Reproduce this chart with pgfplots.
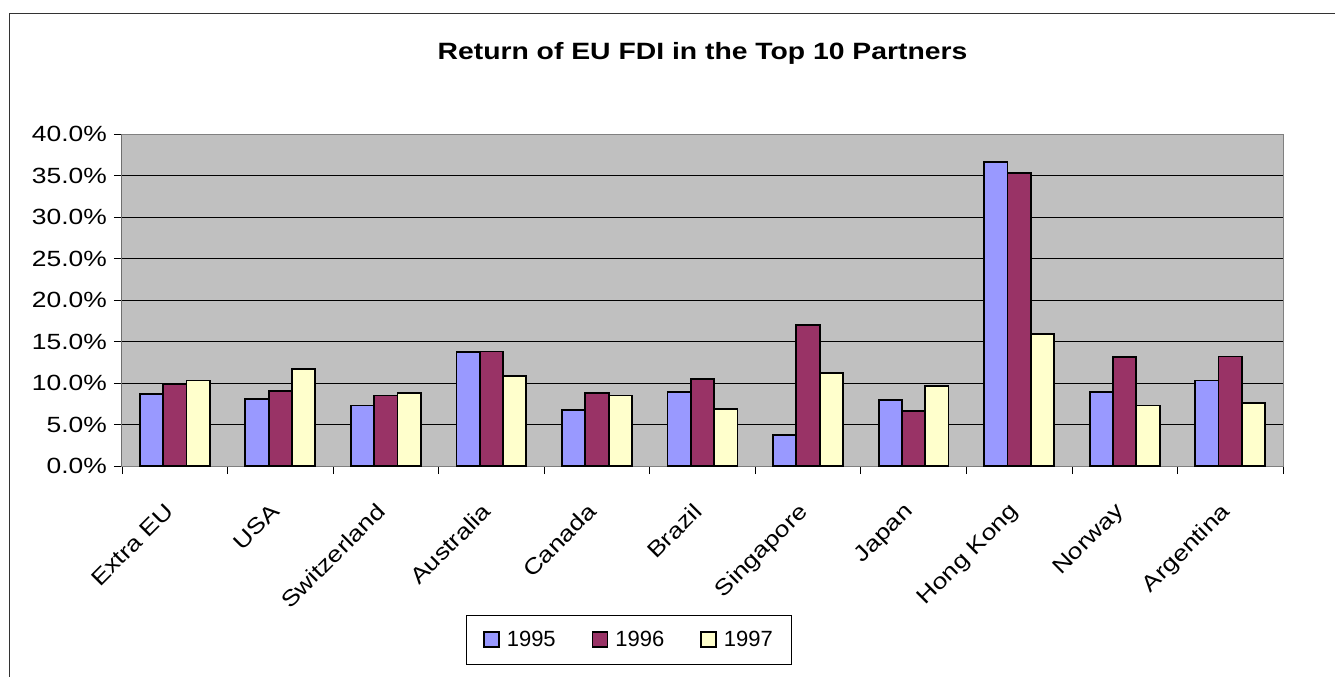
\documentclass[border=0pt]{standalone}
\usepackage{pgfplots}
\pgfplotsset{compat=1.18}
\usepackage{fontspec}
\setmainfont{Liberation Sans}
\newcommand\sx[1]{\scalebox{1.2}[1]{#1}}
\definecolor{c95}{HTML}{9999FF}
\definecolor{c96}{HTML}{993366}
\definecolor{c97}{HTML}{FFFFCC}
\definecolor{bgc}{HTML}{C0C0C0}
\pgfplotstableread{
x y95 y96 y97
0 8.7 9.9 10.3
1 8.1 9.0 11.7
2 7.3 8.5 8.8
3 13.7 13.8 10.8
4 6.7 8.8 8.5
5 8.9 10.5 6.9
6 3.7 17.0 11.2
7 8.0 6.6 9.6
8 36.6 35.3 15.9
9 8.9 13.1 7.3
10 10.3 13.2 7.6
}\datatable
\begin{document}
\begin{tikzpicture}
\useasboundingbox (-122bp,-211bp) rectangle (1213bp,466bp);
\draw[line width=1.4bp, color=black!80] (-112.7bp,-260bp) -- (-112.7bp,452.3bp) -- (1300bp,452.3bp);
\begin{axis}[
  at={(0,0)}, anchor=south west,
  scale only axis, width=1161bp, height=332bp,
  axis background/.style={fill=bgc},
  axis line style={draw=gray, line width=1bp},
  ybar=0pt, bar width=23.3bp,
  xmin=-0.5, xmax=10.5, ymin=0, ymax=40,
  xtick=data,
  xticklabels={\sx{Extra EU}, \sx{USA}, \sx{Switzerland}, \sx{Australia}, \sx{Canada}, \sx{Brazil}, \sx{Singapore}, \sx{Japan}, \sx{Hong Kong}, \sx{Norway}, \sx{Argentina}},
  minor xtick={-0.5,0.5,...,10.5},
  major x tick style={draw=none},
  minor tick length=8bp, major tick length=8bp,
  tick align=outside,
  tick style={black, line width=0.8bp},
  xtick pos=bottom, ytick pos=left,
  ytick={0,5,...,40},
  yticklabels={\sx{0.0\%},\sx{5.0\%},\sx{10.0\%},\sx{15.0\%},\sx{20.0\%},\sx{25.0\%},\sx{30.0\%},\sx{35.0\%},\sx{40.0\%}},
  ymajorgrids, grid style={black, line width=0.8bp},
  tick label style={font=\fontsize{22bp}{26bp}\selectfont},
  yticklabel style={inner sep=0pt, xshift=-7bp},
  xticklabel style={rotate=45, anchor=north east, inner sep=0pt, xshift=-27bp, yshift=-12bp},
  title={\sx{Return of EU FDI in the Top 10 Partners}},
  title style={at={(0.5,1.205)}, anchor=base, font=\fontsize{23.6bp}{28bp}\selectfont\bfseries},
  every axis plot/.append style={draw=black, line width=1.8bp},
  legend columns=3,
  legend style={at={(0.4367,-0.524)}, anchor=center, draw=black, line width=0.8bp,
    font=\fontsize{22bp}{26bp}\selectfont, inner xsep=17bp, inner ysep=14bp,
    /tikz/every even column/.append style={column sep=34bp}},
  legend image code/.code={\draw[#1, line width=1.5bp] (0bp,-7bp) rectangle (15bp,8bp); \path (20bp,0bp);},
]
\addplot[fill=c95] table[x=x, y=y95] {\datatable};
\addplot[fill=c96] table[x=x, y=y96] {\datatable};
\addplot[fill=c97] table[x=x, y=y97] {\datatable};
\legend{1995,1996,1997}
\draw[black, line width=1bp] (rel axis cs:0,0) -- (rel axis cs:0,1);
\end{axis}
\end{tikzpicture}
\end{document}
